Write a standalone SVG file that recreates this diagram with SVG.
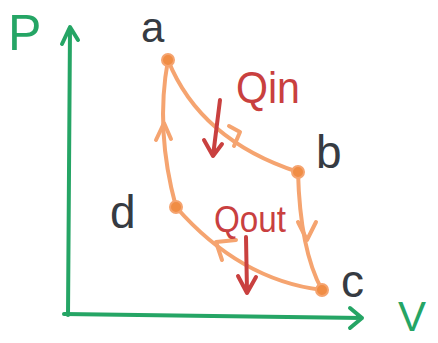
<svg xmlns="http://www.w3.org/2000/svg" width="438" height="343" viewBox="0 0 438 343">
<style>
.axis{fill:none;stroke:#25a565;stroke-width:4;stroke-linecap:round;stroke-linejoin:round}
.proc{fill:none;stroke:#f5a470;stroke-width:4;stroke-linecap:round;stroke-linejoin:round}
.heat{fill:none;stroke:#c9403f;stroke-width:4;stroke-linecap:round;stroke-linejoin:round}
.dot{fill:#f08d45;stroke:#f5a470;stroke-width:2}
.lbl{font-family:"Liberation Sans",Arial,sans-serif;fill:#363b42}
.ax{font-family:"Liberation Sans",Arial,sans-serif;fill:#25a565}
.q{font-family:"Liberation Sans",Arial,sans-serif;fill:#c9403f}
</style>
<rect width="438" height="343" fill="#ffffff"/>
<g id="axes">
<path class="axis" d="M68,315 L70,28 M62,44 L70,27 L78,40"/>
<path class="axis" d="M64,314 L362,318 M350,308 L362,318 L350,328"/>
<text class="ax" x="8" y="50" font-size="50">P</text>
<text class="ax" x="398" y="331" font-size="42">V</text>
</g>
<g id="connectors">
<path class="proc" d="M168,60 Q200,140 298,172"/>
<path class="proc" d="M229,126 L240,132 L234,146"/>
<path class="proc" d="M298,172 Q300,250 322,290"/>
<path class="proc" d="M298,222 L307,240 L316,222"/>
<path class="proc" d="M322,290 Q240,280 176,207"/>
<path class="proc" d="M236,240 L216,242 L222,260"/>
<path class="proc" d="M176,207 Q155,130 168,60"/>
<path class="proc" d="M156,140 L164,123 L171,139"/>
<path class="heat" d="M220,100 L213,156 M204,140 L213,156 L222,144"/>
<path class="heat" d="M246,237 L247,292 M238,276 L247,293 L256,277"/>
</g>
<g id="node-a"><circle class="dot" cx="168" cy="60" r="6"/><text class="lbl" x="141" y="42" font-size="42">a</text></g>
<g id="node-b"><circle class="dot" cx="298" cy="172" r="6"/><text class="lbl" x="316" y="168" font-size="46">b</text></g>
<g id="node-c"><circle class="dot" cx="322" cy="290" r="6"/><text class="lbl" x="341" y="297" font-size="46">c</text></g>
<g id="node-d"><circle class="dot" cx="176" cy="207" r="6"/><text class="lbl" x="110" y="228" font-size="46">d</text></g>
<g id="labels">
<text class="q" x="236" y="103" font-size="44" textLength="64" lengthAdjust="spacingAndGlyphs">Qin</text>
<text class="q" x="214" y="232" font-size="36" textLength="72" lengthAdjust="spacingAndGlyphs">Qout</text>
</g>
</svg>
